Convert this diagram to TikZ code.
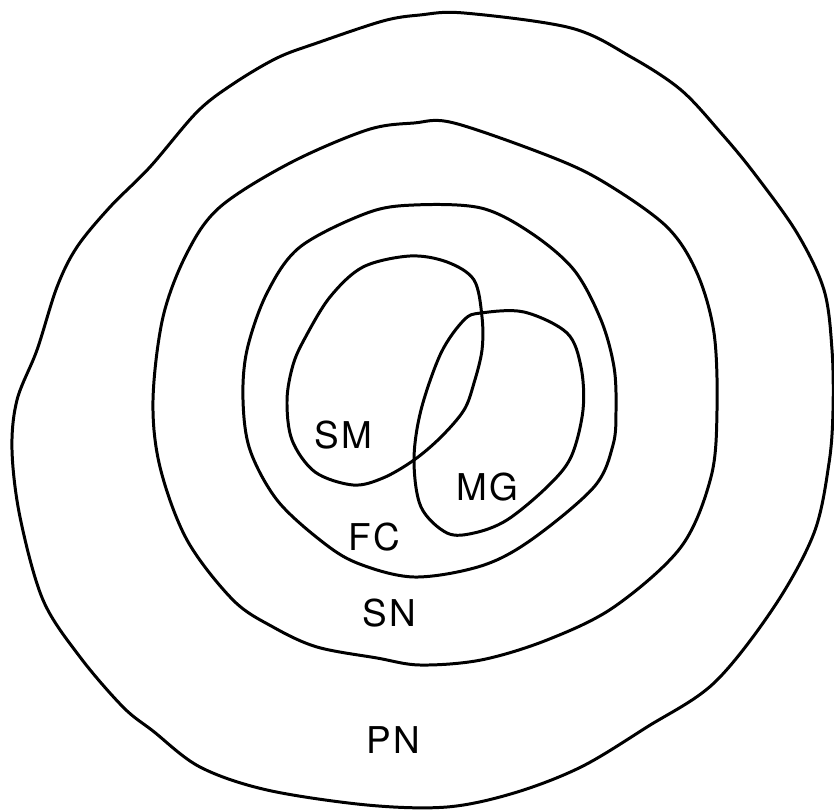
\documentclass[tikz,border=0pt]{standalone}
\usepackage{fontspec}
\newfontfamily\labelfont[LetterSpace=6]{TeX Gyre Heros}
\usetikzlibrary{positioning}

\begin{document}
\begin{tikzpicture}[
  x=0.01cm, y=-0.01cm,
  region/.style={draw=black, line width=0.85pt, smooth cycle, tension=0.55},
  tag/.style={font=\labelfont\fontsize{10.5}{12}\selectfont, inner sep=0pt}
]
  \useasboundingbox (0,0) rectangle (834,810);

  % outermost ring
  \draw[region] plot coordinates {(420,15) (464,13) (571,28) (631,57) (681,90)
    (721,133) (754,173) (797,233) (824,290) (832,350) (833,410) (829,463)
    (814,533) (774,607) (714,683) (647,727) (581,767) (514,793) (447,807)
    (367,805) (267,790) (200,767) (153,731) (123,707) (80,657) (43,600)
    (20,517) (12,450) (17,400) (37,350) (57,287) (77,247) (110,207) (150,167)
    (197,112) (233,84) (277,58) (317,43) (383,21)};

  % second ring
  \draw[region] plot coordinates {(414,123) (454,123) (554,158) (607,184)
    (667,227) (697,273) (714,333) (717,410) (711,477) (681,547) (614,607)
    (547,640) (481,660) (420,665) (377,658) (317,647) (273,627) (233,600)
    (187,540) (160,467) (153,400) (163,317) (187,253) (220,207) (290,163)
    (367,130)};

  % third ring
  \draw[region] plot coordinates {(414,205) (481,208) (531,233) (574,270)
    (601,320) (614,367) (616,410) (613,445) (594,487) (531,540) (481,566)
    (414,577) (357,563) (320,540) (277,500) (250,450) (243,400) (247,350)
    (267,293) (300,247) (367,213)};

  % the two overlapping blobs
  \draw[region] plot coordinates {(410,256) (447,262) (474,280) (482,317)
    (482,350) (474,383) (464,410) (441,437) (414,460) (383,478) (353,485)
    (315,472) (292,440) (287,400) (293,365) (305,338) (330,297) (363,267)};
  \draw[region] plot coordinates {(481,313) (524,312) (567,333) (581,367)
    (583,410) (571,457) (547,487) (507,520) (474,533) (447,533) (421,507)
    (414,460) (421,410) (441,353) (464,320)};

  % labels
  \node[tag] (sm) at (343,435) {SM};
  \node[tag] (mg) at (487,487) {MG};
  \node[tag] (fc) at (374,537) {FC};
  \node[tag] (sn) at (389,613) {SN};
  \node[tag] (pn) at (393,740) {PN};
\end{tikzpicture}
\end{document}
